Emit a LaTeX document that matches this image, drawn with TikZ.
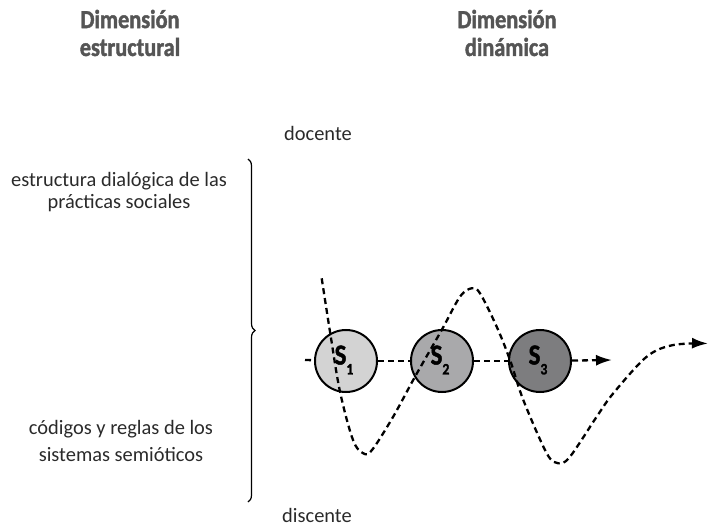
\documentclass[tikz,border=0pt]{standalone}
\usepackage{fontspec}
\setmainfont{Carlito}
\newfontfamily\headfont[FakeStretch=0.86, BoldFeatures={FakeBold=1.6}]{Carlito}
\usetikzlibrary{arrows.meta,decorations.pathreplacing}
\definecolor{headgray}{HTML}{555555}
\definecolor{bodytext}{HTML}{2A2A2A}
\definecolor{cA}{HTML}{D3D3D3}
\definecolor{cB}{HTML}{A9A9AB}
\definecolor{cC}{HTML}{7D7D7F}
\begin{document}
\begin{tikzpicture}[x=1bp,y=-1bp,
  head/.style={font=\headfont\fontsize{26}{28}\selectfont\bfseries, text=headgray, align=center, inner sep=0pt},
  body/.style={font=\fontsize{20.5}{22}\selectfont, text=bodytext, align=center, inner sep=0pt},
  bodywide/.style={body, font=\fontsize{20.5}{28}\selectfont},
  state/.style={circle, draw=black, line width=2bp, minimum size=62bp, inner sep=0pt},
  slabel/.style={font=\headfont\fontsize{29}{29}\selectfont\bfseries, inner sep=0pt},
  dashline/.style={line width=2.3bp, dash pattern=on 6bp off 4bp},
  tip/.style={-{Latex[length=16bp,width=11bp]}}
]
\useasboundingbox (0,0) rectangle (708,529);

% headings
\node[head] (h1) at (130,33) {Dimensión\\estructural};
\node[head] (h2) at (507,33) {Dimensión\\dinámica};

% labels
\node[body] (doc) at (318,133) {docente};
\node[body] (dis) at (317,515) {discente};
\node[body] (est) at (119,192) {estructura dialógica de las\\prácticas sociales};
\node[bodywide] (cod) at (121,441) {códigos y reglas de los\\sistemas semióticos};

% brace
\coordinate (bt) at (248,159);
\coordinate (bb) at (248,502);
\draw[line width=1.2bp, decorate, decoration={brace, amplitude=7bp}] (bt) -- (bb);

% horizontal line
\coordinate (hs) at (305,360);
\coordinate (he) at (612,360);
\node[state, fill=cA] (s1) at (346,361) {};
\node[state, fill=cB] (s2) at (442,361) {};
\node[state, fill=cC] (s3) at (540,361) {};
\draw[dashline] (hs) -- (s1);
\draw[dashline] (s1) -- (s2);
\draw[dashline] (s2) -- (s3);
\draw[dashline, tip] (s3) -- (he);

% wave
\draw[dashline, tip] plot[smooth, tension=0.55] coordinates {
 (321.7,278.3) (330,331.7) (340,391.7) (353,440) (363.3,453.3)
 (372,450) (393,417) (415,376.7) (441.7,330) (460,296.7) (471.7,288.3)
 (480,293.3) (496.7,326.7) (510,360) (523.3,400) (546.7,453.3) (558.3,463.3)
 (570,456.7) (596.7,416.7) (613.3,393.3) (646.7,356.7) (673.3,345) (708,343.5)};

% state labels
\node[slabel] (l1) at (344,360) {S\raisebox{-10bp}{\fontsize{16}{16}\selectfont 1}};
\node[slabel] (l2) at (440,360) {S\raisebox{-10bp}{\fontsize{16}{16}\selectfont 2}};
\node[slabel] (l3) at (538,360) {S\raisebox{-10bp}{\fontsize{16}{16}\selectfont 3}};
\end{tikzpicture}
\end{document}
